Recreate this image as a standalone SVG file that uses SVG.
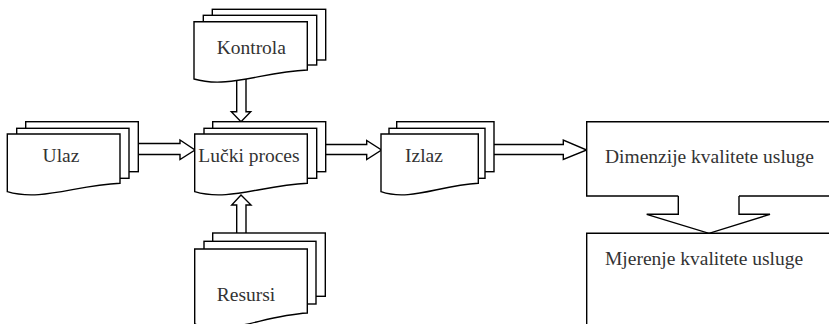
<svg xmlns="http://www.w3.org/2000/svg" width="829" height="324" viewBox="0 0 829 324">
<style>
.s{fill:#fff;stroke:#000;stroke-width:1.4;stroke-linejoin:miter}
.o{fill:none;stroke:#000;stroke-width:1.4}
.t{font-family:'Liberation Serif','Times New Roman',serif;font-size:19.5px;fill:#333}
.c{text-anchor:middle}
</style>
<rect width="829" height="324" fill="#fff"/>
<g id="connectors">
<polygon class="s" points="130,143.5 180,143.5 180,140 195,150 180,159.5 180,154.5 130,154.5"/>
<polygon class="s" points="318,144.5 366.7,144.5 366.7,140.5 381.5,150 366.7,159.5 366.7,154.5 318,154.5"/>
<polygon class="s" points="486,144.5 563.3,144.5 563.3,140 586.7,150 563.3,159.5 563.3,154.5 486,154.5"/>
<polygon class="s" points="236.7,72 246,72 246,111.7 250.7,111.7 241,121.7 231.3,111.7 236.7,111.7"/>
<polygon class="s" points="236.7,240 246,240 246,205 251,205 241,195 231.7,205 236.7,205"/>
<path class="s" d="M678.3,196 V214.3 H646.7 L709,233.3 L770,214.3 H739 V196"/>
</g>
<g id="ulaz">
<rect class="s" x="25.7" y="121.7" width="112.6" height="50"/>
<rect class="s" x="16.7" y="128.3" width="112.3" height="50"/>
<path class="s" d="M7.3,134 H120 V183.3 C75,185.3 41,201.7 7.3,191.7 Z"/>
<text class="t c" x="61" y="162">Ulaz</text>
</g>
<g id="lucki-proces">
<rect class="s" x="212.7" y="121.7" width="113" height="50"/>
<rect class="s" x="204" y="128.3" width="112.7" height="50"/>
<path class="s" d="M194.7,134 H307.3 V183.3 C262,185.3 228,201.7 194.7,191.7 Z"/>
<text class="t c" x="249" y="162">Lučki proces</text>
</g>
<g id="izlaz">
<rect class="s" x="396.7" y="121.7" width="97.3" height="50"/>
<rect class="s" x="389" y="128.3" width="96" height="50"/>
<path class="s" d="M381,134 H478.3 V183.3 C439,185.3 410,201.7 381,191.7 Z"/>
<text class="t c" x="424" y="162">Izlaz</text>
</g>
<g id="kontrola">
<rect class="s" x="212.3" y="9.3" width="113.4" height="50.7"/>
<rect class="s" x="203.3" y="15.3" width="113.4" height="49.7"/>
<path class="s" d="M194,21.7 H307.3 V70 C262,72 228,89 194,79 Z"/>
<text class="t c" x="251.3" y="54">Kontrola</text>
</g>
<g id="resursi">
<rect class="s" x="212.7" y="233" width="112.6" height="63.3"/>
<rect class="s" x="204" y="241.3" width="112" height="62.7"/>
<path class="s" d="M194.7,249 H307.3 V313 C262,315.5 228,337 194.7,324 Z"/>
<text class="t c" x="246" y="301">Resursi</text>
</g>
<g id="dimenzije">
<rect x="586.7" y="121.7" width="250" height="74.3" fill="#fff"/>
<path class="o" d="M840,121.7 H586.7 V196 H678.3 M739,196 H840"/>
<text class="t" x="605" y="163">Dimenzije kvalitete usluge</text>
</g>
<g id="mjerenje">
<path class="o" d="M840,233.3 H586.7 V330"/>
<text class="t" x="605" y="265">Mjerenje kvalitete usluge</text>
</g>
</svg>
